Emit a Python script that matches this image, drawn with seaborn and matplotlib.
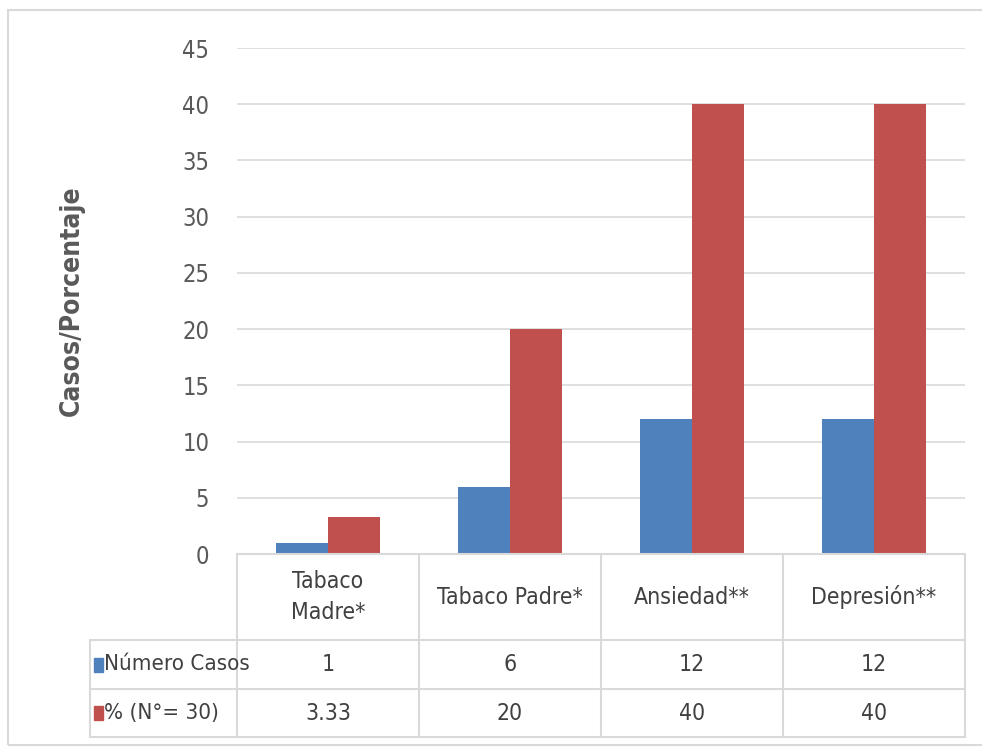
import matplotlib
matplotlib.use("Agg")
import matplotlib.pyplot as plt
import matplotlib.transforms as mtransforms
from matplotlib.lines import Line2D
from matplotlib.patches import Rectangle
import pandas as pd
import seaborn as sns

categorias = ["Tabaco\nMadre*", "Tabaco Padre*", "Ansiedad**", "Depresión**"]
numero_casos = [1, 6, 12, 12]
porcentaje = [3.33, 20, 40, 40]
series = ["Número Casos", "% (N°= 30)"]
colores = ["#4f81bd", "#c0504d"]
yticks = [0, 5, 10, 15, 20, 25, 30, 35, 40, 45]

sns.set_theme(style="white")
plt.rcParams["font.family"] = ["DejaVu Sans"]
plt.rcParams["font.stretch"] = "condensed"

df = pd.DataFrame({
    "cat": categorias * 2,
    "valor": numero_casos + porcentaje,
    "serie": [series[0]] * 4 + [series[1]] * 4,
})

W, H = 982, 751
fig = plt.figure(figsize=(9.82, 7.51), dpi=100)
ax = fig.add_axes([237 / W, 1 - 554 / H, (965 - 237) / W, (554 - 48) / H])

sns.barplot(data=df, x="cat", y="valor", hue="serie", palette=colores,
            width=0.57, gap=0, saturation=1, legend=False, ax=ax,
            errorbar=None, linewidth=0)

ax.set_ylim(0, 45)
ax.set_xlim(-0.5, 3.5)
ax.set_yticks(yticks)
ax.set_yticklabels([str(t) for t in yticks], fontsize=17, color="#595959")
ax.tick_params(axis="y", length=0, pad=20)
ax.set_xticks([])
ax.set_xlabel("")
ax.set_ylabel("Casos/Porcentaje", fontsize=19, fontweight="bold",
              color="#595959", labelpad=70)
for s in ax.spines.values():
    s.set_visible(False)
ax.yaxis.grid(True, color="#d9d9d9", linewidth=1.2)
ax.set_axisbelow(True)

# borde del gráfico
fig.add_artist(Rectangle((8 / W, 1 - 745 / H), 1.1, (745 - 10) / H,
                         transform=fig.transFigure, fill=False,
                         edgecolor="#d9d9d9", linewidth=1.5))

# tabla de datos
tr = mtransforms.blended_transform_factory(ax.transData, fig.transFigure)
lc = "#d9d9d9"
y_top, y_r1, y_r2, y_bot = [1 - v / H for v in (554, 640, 689, 737)]
x_left = 90 / W
x0 = 237 / W
x1 = 965 / W
def hline(y, xa):
    fig.add_artist(Line2D([xa, x1], [y, y], transform=fig.transFigure,
                          color=lc, linewidth=1.5))
hline(y_top, x0)
for y in (y_r1, y_r2, y_bot):
    hline(y, x_left)
fig.add_artist(Line2D([x_left, x_left], [y_r1, y_bot], transform=fig.transFigure,
                      color=lc, linewidth=1.5))
for xb in [0.5, 1.5, 2.5, 3.5]:
    fig.add_artist(Line2D([xb, xb], [y_top, y_bot], transform=tr,
                          color=lc, linewidth=1.5))
fig.add_artist(Line2D([x0, x0], [y_top, y_bot], transform=fig.transFigure,
                      color=lc, linewidth=1.5))

for i, c in enumerate(categorias):
    fig.text(i, (y_top + y_r1) / 2, c, transform=tr, ha="center", va="center",
             fontsize=16.5, color="#404040", linespacing=1.4)
    fig.text(i, (y_r1 + y_r2) / 2, str(numero_casos[i]), transform=tr,
             ha="center", va="center", fontsize=16.5, color="#404040")
    fig.text(i, (y_r2 + y_bot) / 2, f"{porcentaje[i]:g}", transform=tr,
             ha="center", va="center", fontsize=16.5, color="#404040")

for yc, nombre, col in [((y_r1 + y_r2) / 2, series[0], colores[0]),
                        ((y_r2 + y_bot) / 2, series[1], colores[1])]:
    fig.add_artist(Rectangle((94 / W, yc - 7 / H), 9 / W, 14 / H,
                             transform=fig.transFigure, color=col))
    fig.text(104 / W, yc, nombre, ha="left", va="center", fontsize=16,
             color="#404040")

fig.savefig("out.png", dpi=100)
